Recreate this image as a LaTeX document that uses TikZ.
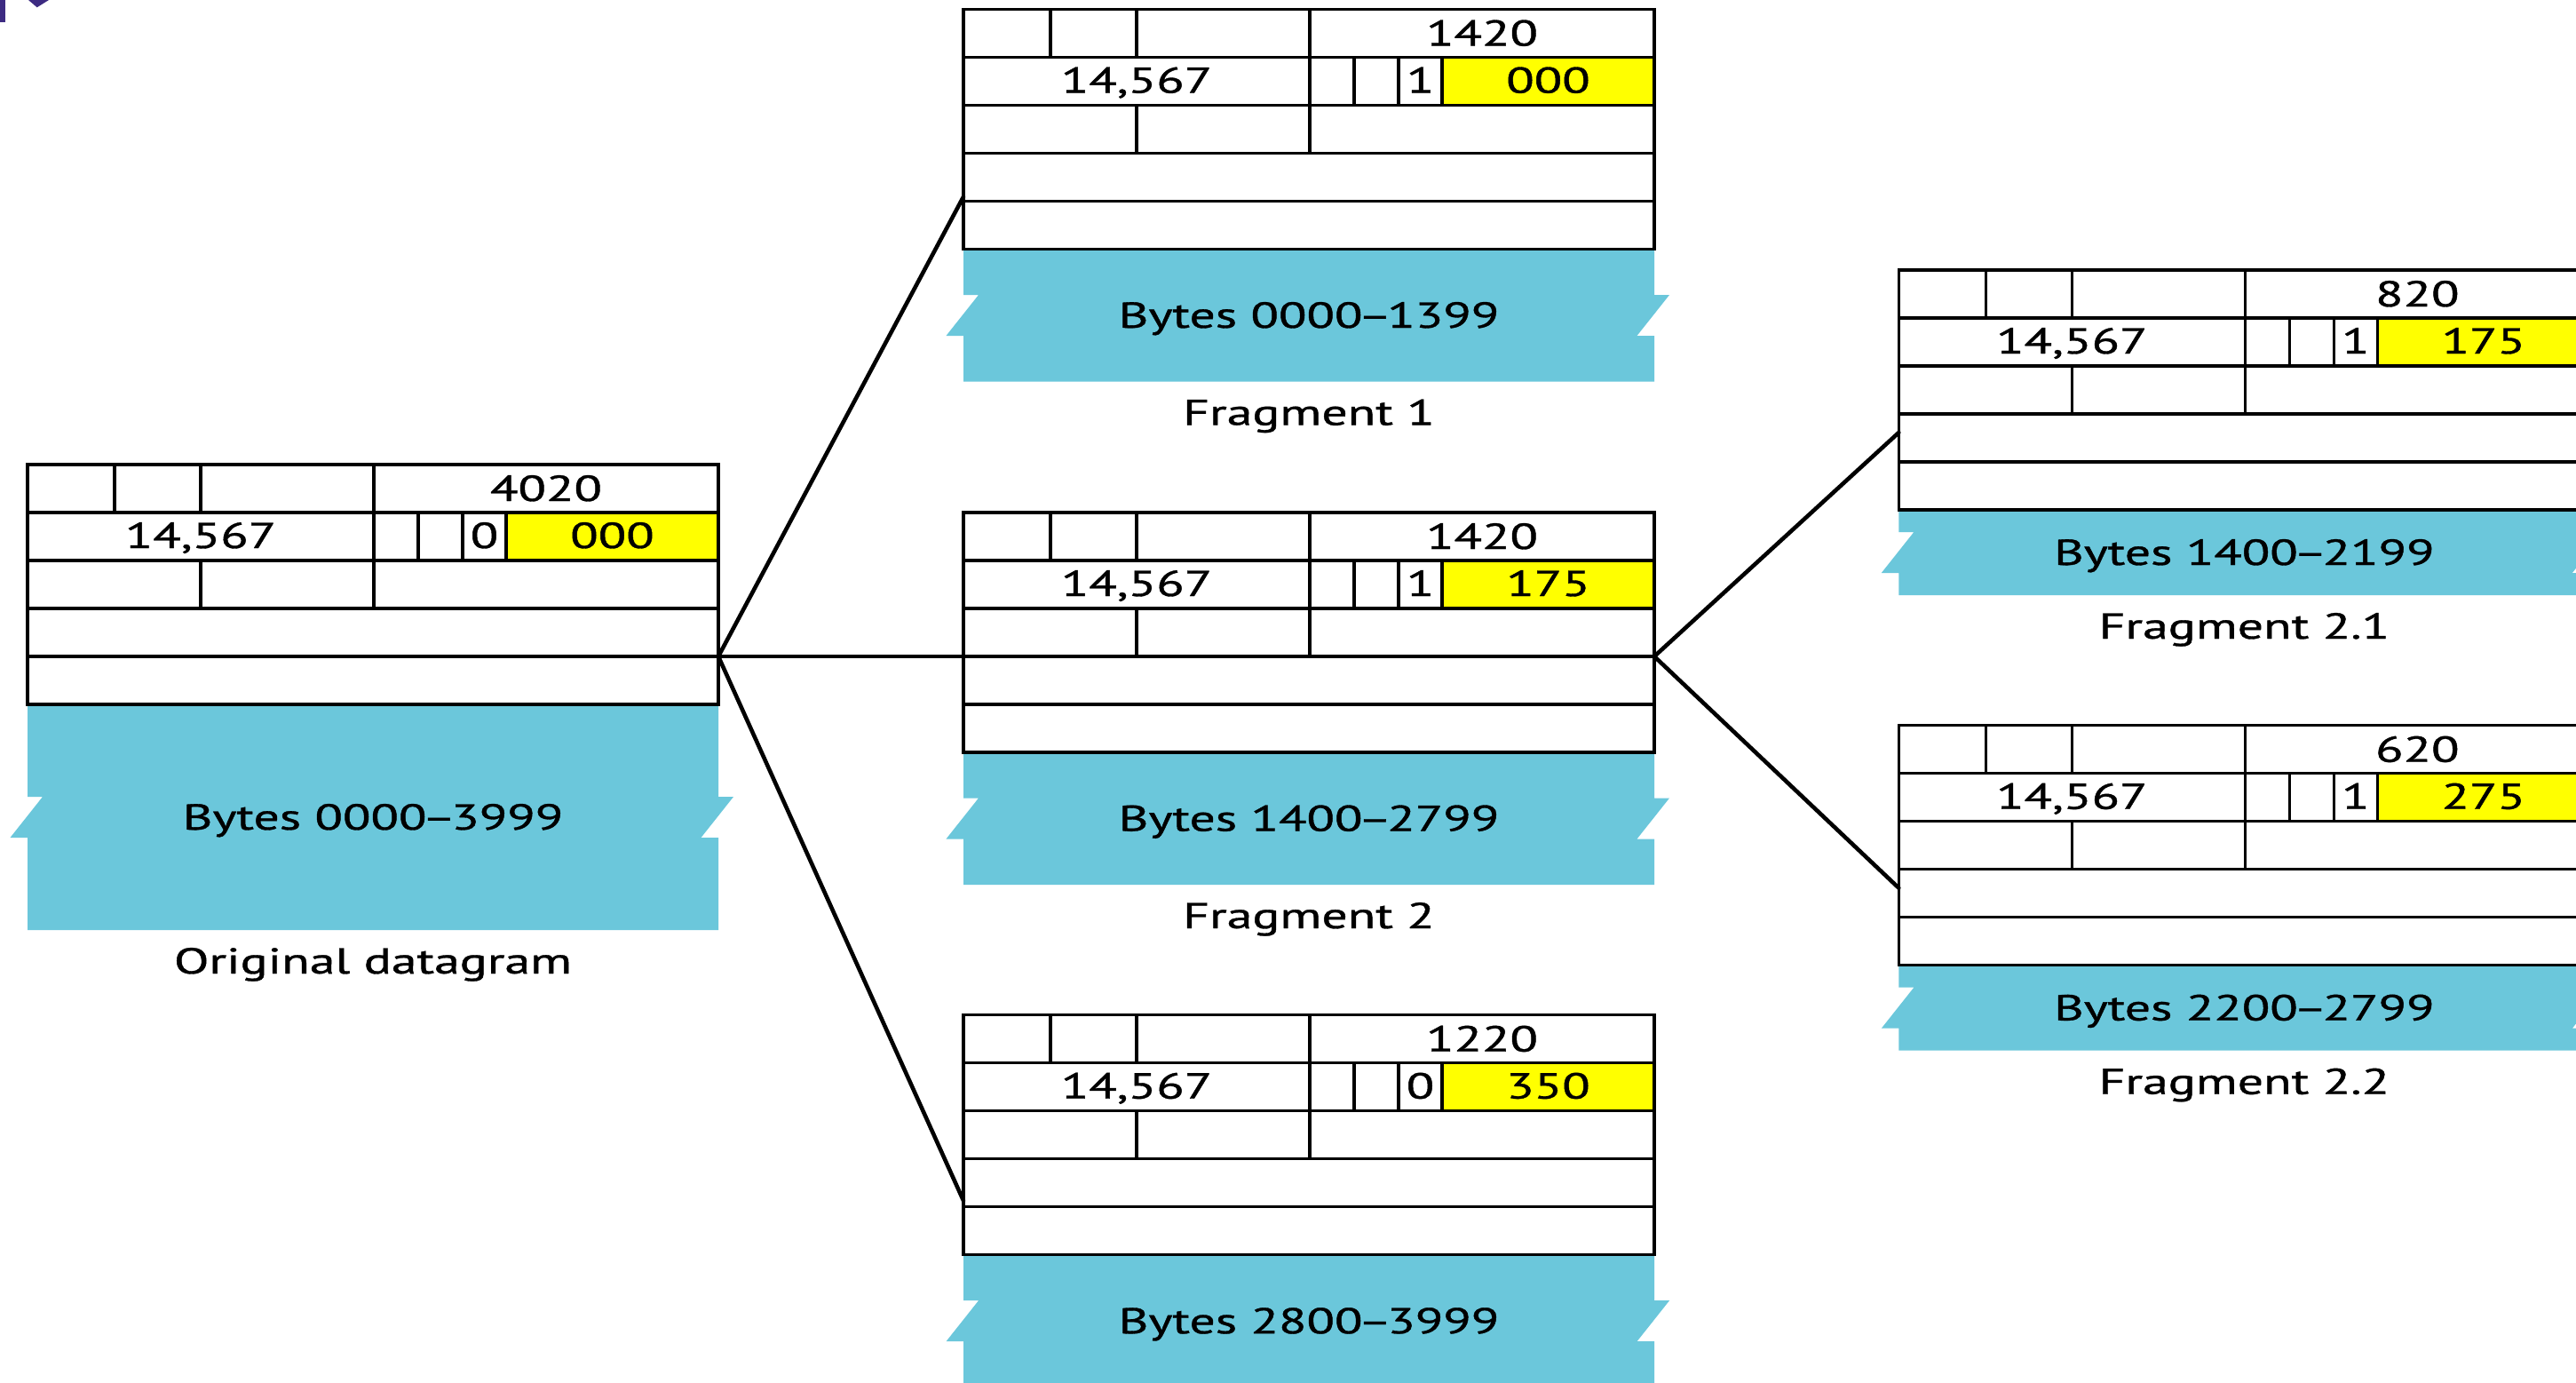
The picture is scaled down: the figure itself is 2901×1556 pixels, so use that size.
\documentclass[tikz,border=0pt]{standalone}
\usepackage{fontspec}
\setmainfont{PT Sans}[FakeBold=0.8]
\usepackage{graphicx}

\definecolor{payloadblue}{HTML}{6BC7DB}
\definecolor{offsetyellow}{HTML}{FFFF00}
\definecolor{cornermark}{HTML}{3D2B82}

% the lettering of the figure is set wide
\newcommand\widetext[1]{\scalebox{1.42}[1]{#1}}
% tight dash between the two ends of a byte range
\newcommand\rangedash{\kern-0.09em–\kern-0.09em}

\tikzset{
  gridline/.style={line width=3.4pt},
  headerbox/.style={draw, line width=3.4pt, minimum width=778pt, minimum height=270pt,
    anchor=north west, inner sep=0pt, outer sep=0pt},
  fieldtext/.style={anchor=base, inner sep=0pt, font=\fontsize{40.7}{48}\selectfont},
  link/.style={line width=4.6pt, line cap=round},
}

% #1 name, #2,#3 top-left corner, #4 total length, #5 M flag,
% #6 fragmentation offset, #7 payload height, #8 payload bytes, #9 caption
\newcommand\ipdatagram[9]{%
  \begin{scope}[shift={(#2,#3)}]
    \pgfmathsetmacro\pmid{270+#7/2}
    \pgfmathsetmacro\ptop{\pmid-23}
    \pgfmathsetmacro\pbot{\pmid+23}
    \pgfmathsetmacro\pend{270+#7}
    \pgfmathsetmacro\pbase{\pmid+14}
    \pgfmathsetmacro\cbase{\pend+49}
    % payload with torn edges
    \fill[payloadblue] (0,270) -- (778,270) -- (778,\ptop) -- (795,\ptop)
      -- (758.5,\pbot) -- (778,\pbot) -- (778,\pend) -- (0,\pend)
      -- (0,\pbot) -- (-19.5,\pbot) -- (17,\ptop) -- (0,\ptop) -- cycle;
    % header: five 32-bit rows
    \fill[white] (0,0) rectangle (778,270);
    \fill[offsetyellow] (539,54) rectangle (778,108);
    \draw[gridline] (0,54) -- (778,54) (0,108) -- (778,108)
      (0,162) -- (778,162) (0,216) -- (778,216)
      (98,0) -- (98,54) (195,0) -- (195,54) (390,0) -- (390,162)
      (440,54) -- (440,108) (490,54) -- (490,108) (539,54) -- (539,108)
      (195,108) -- (195,162);
    \node[headerbox] (#1) at (0,0) {};
    \node[fieldtext] (#1-len) at (584,41) {\widetext{#4}};
    \node[fieldtext] (#1-id) at (195,94) {\widetext{14,567}};
    \node[fieldtext] (#1-mf) at (514.5,94) {\widetext{#5}};
    \node[fieldtext] (#1-off) at (658.5,94) {\widetext{#6}};
    \node[fieldtext] (#1-data) at (389,\pbase) {\widetext{#8}};
    \node[fieldtext] (#1-cap) at (389,\cbase) {\widetext{#9}};
  \end{scope}}

\begin{document}
\begin{tikzpicture}[x=1pt, y=-1pt]
  \clip (0,0) rectangle (2901,1556);
  \fill[white] (0,0) rectangle (2901,1556);

  % marks left over at the top-left corner
  \fill[cornermark] (0,0) rectangle (6,25);
  \fill[cornermark] (32,0) -- (55,0) -- (41.7,8.3) -- cycle;

  \ipdatagram{orig}{31}{523}{4020}{0}{000}{254}{Bytes 0000\rangedash3999}{Original datagram}
  \ipdatagram{f1}{1085}{10.5}{1420}{1}{000}{149}{Bytes 0000\rangedash1399}{Fragment 1}
  \ipdatagram{f2}{1085}{577}{1420}{1}{175}{149}{Bytes 1400\rangedash2799}{Fragment 2}
  \ipdatagram{f3}{1085}{1142.7}{1220}{0}{350}{149}{Bytes 2800\rangedash3999}{}
  \ipdatagram{f21}{2138.3}{304}{820}{1}{175}{96}{Bytes 1400\rangedash2199}{Fragment 2.1}
  \ipdatagram{f22}{2138.3}{816.7}{620}{1}{275}{96}{Bytes 2200\rangedash2799}{Fragment 2.2}

  % fragmentation links
  \draw[link] ([yshift=-216pt]orig.north east) -- ([yshift=-211pt]f1.north west);
  \draw[link] ([yshift=-216pt]orig.north east) -- ([yshift=-162pt]f2.north west);
  \draw[link] ([yshift=-216pt]orig.north east) -- ([yshift=-209pt]f3.north west);
  \draw[link] ([yshift=-162pt]f2.north east) -- ([yshift=-183pt]f21.north west);
  \draw[link] ([yshift=-162pt]f2.north east) -- ([yshift=-183pt]f22.north west);
\end{tikzpicture}
\end{document}
